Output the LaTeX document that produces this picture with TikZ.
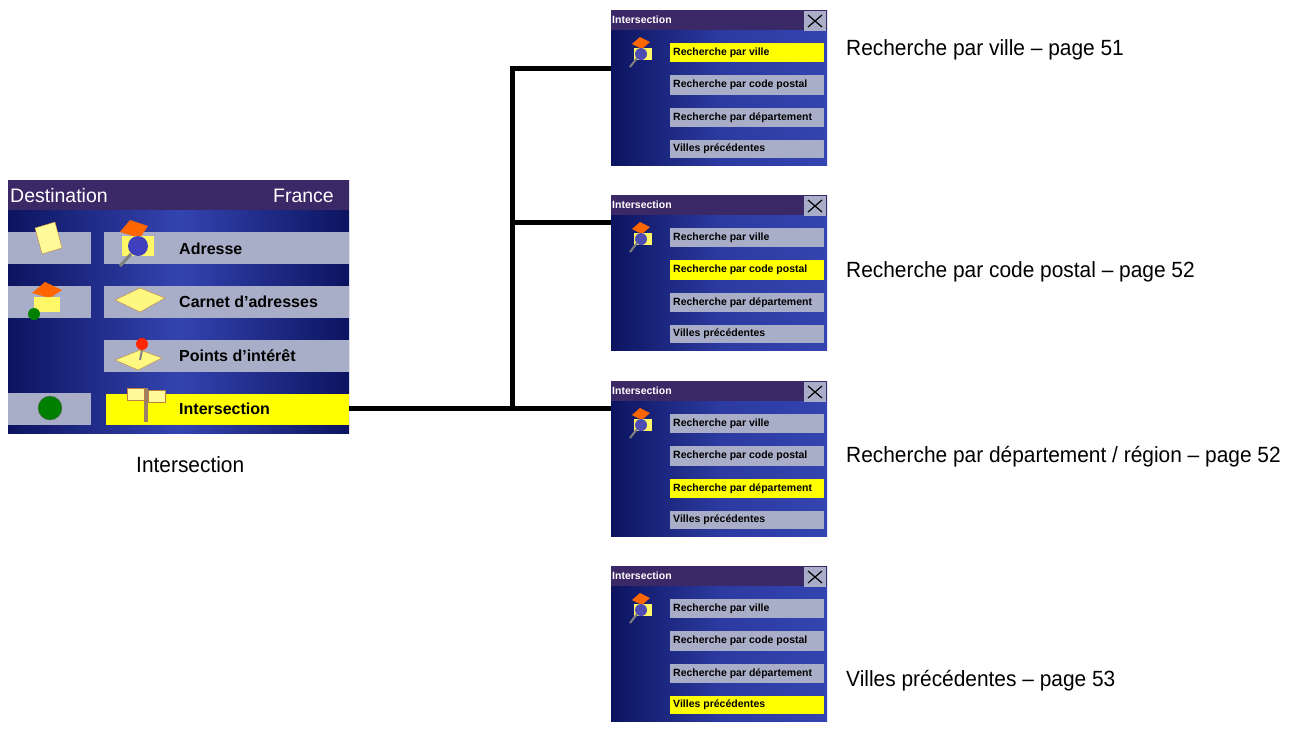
\documentclass[tikz,border=0pt]{standalone}
\usepackage{fontspec}
\setmainfont{Liberation Sans}
\newfontfamily\labfont{Liberation Sans}[FakeStretch=0.95]
\begin{document}
\definecolor{titlebar}{HTML}{3B2866}
\definecolor{bgdark}{HTML}{0C1460}
\definecolor{bglight}{HTML}{3444B0}
\definecolor{btn}{HTML}{A9AEC8}
\definecolor{hil}{HTML}{FFFF00}
\tikzset{
  conn/.style={line width=5pt, line cap=butt},
  lab/.style={font=\labfont\fontsize{22}{24}\selectfont, anchor=west, inner sep=0pt},
  bigtxt/.style={font=\bfseries\fontsize{16}{18}\selectfont, anchor=west, inner sep=0pt},
  smalltxt/.style={font=\bfseries\fontsize{10.5}{12}\selectfont, anchor=west, inner sep=0pt},
}
\newcommand\mysmallscreen[3]{%
  \begin{scope}[yshift=-#1pt]
  \fill[left color=bgdark, right color=bglight, middle color=bglight!80!bgdark] (611,0) rectangle (827,155);
  \fill[titlebar] (611,0) rectangle (827,20);
  \node[font=\bfseries\fontsize{10.5}{11}\selectfont, text=white, anchor=west, inner sep=0pt] at (612,10) {Intersection};
  \fill[btn] (804,1) rectangle (826,21);
  \draw[line width=1.2pt] (808,5) -- (822,17) (808,17) -- (822,5);
  \foreach \i/\ya/\yb/\t in {1/33/52/Recherche par ville, 2/65/85/Recherche par code postal, 3/98/117/Recherche par département, 4/130/148/Villes précédentes}{
    \ifnum\i=#2 \fill[hil] (670,\ya) rectangle (824,\yb); \else \fill[btn] (670,\ya) rectangle (824,\yb); \fi
    \node[smalltxt] at (673,{(\ya+\yb)/2}) {\t};
  }
  \fill[orange!80!red] (632,34) -- (640,27) -- (650,32) -- (642,39) -- cycle;
  \fill[yellow!60!white] (634,38) rectangle (652,50);
  \fill[gray!60!blue] (641,44) circle (6);
  \draw[gray, line width=2pt] (637,48) -- (630,57);
  \coordinate (#3) at (611,58);
  \end{scope}}
\begin{tikzpicture}[x=1pt,y=-1pt]
\useasboundingbox (0,0) rectangle (1304,732);
\fill[white] (0,0) rectangle (1304,732);
% left screen
\fill[left color=bgdark, right color=bgdark, middle color=bglight] (8,180) rectangle (349,433);
\fill[titlebar] (8,180) rectangle (349,210);
\node[text=white, font=\fontsize{19.5}{21}\selectfont, anchor=west, inner sep=0pt] (t1) at (10,196) {Destination};
\node[text=white, font=\fontsize{19.5}{21}\selectfont, anchor=east, inner sep=0pt] (t2) at (334,196) {France};
\foreach \ya/\yb in {232/264, 286/318, 393/425}{\fill[btn] (8,\ya) rectangle (91,\yb);}
\foreach \ya/\yb in {232/264, 286/318, 340/372}{\fill[btn] (104,\ya) rectangle (349,\yb);}
\fill[hil] (106,394) rectangle (349,425);
\node[bigtxt] (b1) at (179,249) {Adresse};
\node[bigtxt] (b2) at (179,302) {Carnet d'adresses};
\node[bigtxt] (b3) at (179,356) {Points d'intérêt};
\node[bigtxt] (b4) at (179,409) {Intersection};
% icons
\fill[yellow!40!white, draw=brown] (35,228) -- (55,222) -- (62,248) -- (42,254) -- cycle;
\fill[orange!80!red] (120,232) -- (130,220) -- (148,226) -- (140,238) -- cycle;
\fill[yellow!60!white] (122,236) rectangle (154,256);
\fill[gray!50!blue] (138,246) circle (10);
\draw[gray, line width=3pt] (131,254) -- (120,266);
\fill[orange!80!red] (32,293) -- (45,282) -- (62,290) -- (50,298) -- cycle;
\fill[yellow!60!white] (34,297) rectangle (60,312);
\fill[green!50!black] (34,314) circle (6);
\fill[yellow!50!white, draw=brown] (115,300) -- (140,288) -- (165,298) -- (140,312) -- cycle;
\fill[yellow!50!white, draw=brown] (115,360) -- (140,350) -- (162,358) -- (138,370) -- cycle;
\fill[red!70!orange] (142,344) circle (6);
\draw[gray, line width=2pt] (142,350) -- (140,360);
\fill[green!50!black, draw=black!60] (50,408) circle (12);
\draw[gray!60!brown, line width=4pt] (146,388) -- (146,422);
\fill[yellow!40!white, draw=brown] (127,388) rectangle (144,400);
\fill[yellow!40!white, draw=brown] (148,390) rectangle (165,402);
\coordinate (src) at (349,408);
\node[lab] (lmain) at (136,465) {Intersection};
% small screens
\mysmallscreen{10}{1}{s1}
\mysmallscreen{195}{2}{s2}
\mysmallscreen{381}{3}{s3}
\mysmallscreen{566}{4}{s4}
% connectors
\coordinate (jn) at (512,408);
\draw[conn] (src) -- (jn);
\draw[conn] (512,410.5) -- (512,68) -- (s1);
\draw[conn] (512,222) -- (611,222);
\draw[conn] (512,408) -- (611,408);
% labels
\node[lab] (l1) at (846,50) {Recherche par ville – page 51};
\node[lab] (l2) at (846,272) {Recherche par code postal – page 52};
\node[lab] (l3) at (846,457) {Recherche par département / région – page 52};
\node[lab] (l4) at (846,681) {Villes précédentes – page 53};
\end{tikzpicture}
\end{document}
